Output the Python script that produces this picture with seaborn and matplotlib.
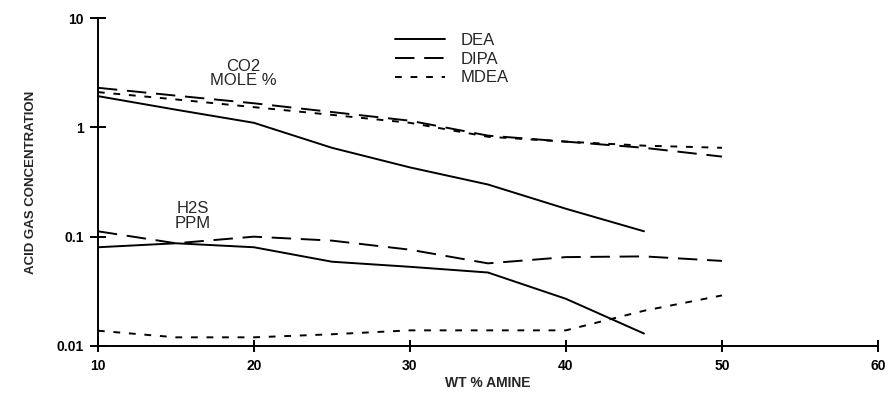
import numpy as np
import pandas as pd
import matplotlib
matplotlib.use('Agg')
import matplotlib.pyplot as plt
import seaborn as sns

# values (wt % amine vs acid gas concentration)
wt = [10, 15, 20, 25, 30, 35, 40, 45, 50]
co2_dea = [1.93, 1.45, 1.10, 0.65, 0.43, 0.30, 0.18, 0.112, np.nan]
co2_dipa = [2.30, 1.95, 1.66, 1.38, 1.15, 0.84, 0.74, 0.65, 0.54]
co2_mdea = [2.10, 1.80, 1.53, 1.30, 1.10, 0.82, 0.74, 0.68, 0.65]
h2s_dea = [0.080, 0.087, 0.080, 0.059, 0.053, 0.047, 0.027, 0.013, np.nan]
h2s_dipa = [0.112, 0.087, 0.100, 0.092, 0.076, 0.057, 0.065, 0.066, 0.060]
h2s_mdea = [0.0138, 0.0120, 0.0120, 0.0128, 0.0139, 0.0139, 0.0139, 0.021, 0.029]

amines = ['DEA', 'DIPA', 'MDEA']
dashes = {'DEA': '', 'DIPA': (10, 5), 'MDEA': (3.5, 4.5)}

rows = []
for gas, series in [('CO2', [co2_dea, co2_dipa, co2_mdea]),
                    ('H2S', [h2s_dea, h2s_dipa, h2s_mdea])]:
    for am, vals in zip(amines, series):
        for x, v in zip(wt, vals):
            rows.append({'wt': x, 'conc': v, 'amine': am, 'gas': gas})
df = pd.DataFrame(rows).dropna()

sns.set_style('white')
plt.rcParams['font.family'] = ['Liberation Sans', 'DejaVu Sans']

fig = plt.figure(figsize=(8.9, 3.96), dpi=100)
ax = fig.add_axes([0.110, 0.1263, 0.8765, 0.8282])

for gas in ['CO2', 'H2S']:
    sns.lineplot(data=df[df.gas == gas], x='wt', y='conc', style='amine',
                 style_order=amines, dashes=dashes, color='black',
                 linewidth=1.4, estimator=None, legend=(gas == 'CO2'), ax=ax)

ax.set_yscale('log')
ax.set_xlim(10, 60)
ax.set_ylim(0.01, 10)
ax.set_xticks([10, 20, 30, 40, 50, 60])
ax.set_yticks([0.01, 0.1, 1, 10])
ax.set_yticklabels(['0.01', '0.1', '1', '10'])
ax.yaxis.set_minor_locator(matplotlib.ticker.NullLocator())
for s in ['top', 'right']:
    ax.spines[s].set_visible(False)
for s in ['left', 'bottom']:
    ax.spines[s].set_color('black')
    ax.spines[s].set_linewidth(1.4)
ax.tick_params(axis='x', bottom=True, direction='inout', length=9, width=1.4,
               colors='black', labelsize=10, pad=5)
ax.tick_params(axis='y', left=True, direction='inout', length=12, width=1.4,
               colors='black', labelsize=10, pad=4)
for lbl in ax.get_xticklabels() + ax.get_yticklabels():
    lbl.set_fontweight('bold')

ax.set_xlabel('WT % AMINE', fontsize=10, fontweight='bold', labelpad=2)
ax.set_ylabel('ACID GAS CONCENTRATION', fontsize=9.5, fontweight='bold',
              labelpad=14)

ax.text(19.3, 3.1, 'CO2\nMOLE %', ha='center', va='center', fontsize=12,
        linespacing=0.95)
ax.text(16.1, 0.155, 'H2S\nPPM', ha='center', va='center', fontsize=12,
        linespacing=0.95)

leg = ax.legend(loc='upper left', bbox_to_anchor=(0.362, 1.0), frameon=False,
                fontsize=12, handlelength=3.0, handletextpad=0.9,
                labelspacing=0.22)
for h in leg.get_lines():
    h.set_linewidth(1.4)

fig.savefig('out.png', dpi=100)
